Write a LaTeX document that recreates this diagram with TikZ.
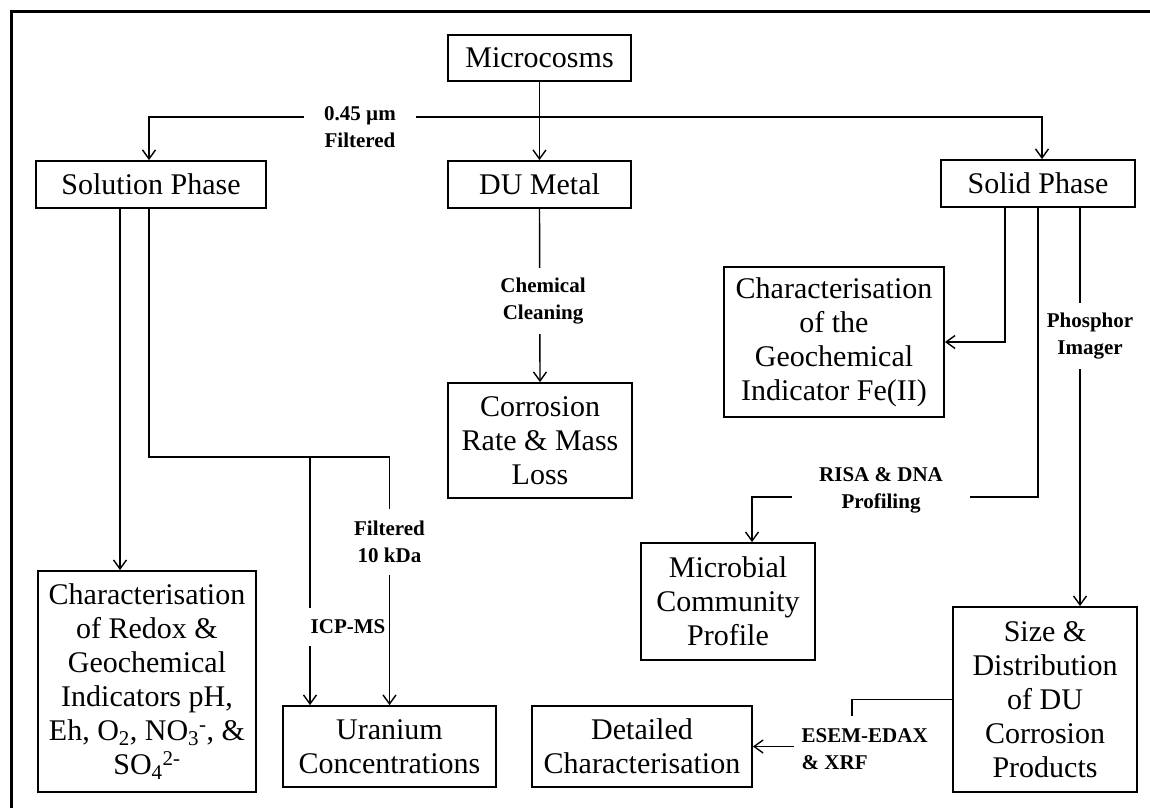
\documentclass[tikz,border=0pt]{standalone}
\usepackage{fontspec}
\setmainfont{Liberation Serif}
\usetikzlibrary{arrows.meta}
\tikzset{
  box/.style={draw,line width=1.8pt,align=center,inner sep=2pt,font=\fontsize{30}{34}\selectfont},
  lbl/.style={fill=white,align=center,inner xsep=4pt,inner ysep=10pt,font=\fontsize{21}{27}\selectfont\bfseries},
}
\begin{document}
\begin{tikzpicture}[x=1pt,y=-1pt,line width=1.4pt,>={Straight Barb[length=9pt,width=13pt]}]
    \useasboundingbox (0,0) rectangle (1150,808);
    \draw[line width=3pt] (11,808)--(11,12)--(1150,12);
    \node[box,minimum width=183pt,minimum height=46pt] (micro) at (539.5,58) {Microcosms};
    \node[box,minimum width=230pt,minimum height=47pt] (solution) at (151,184.5) {Solution Phase};
    \node[box,minimum width=183pt,minimum height=47pt] (dumetal) at (539.5,184.5) {DU Metal};
    \node[box,minimum width=194pt,minimum height=47pt] (solid) at (1038,183.5) {Solid Phase};
    \node[box,minimum width=218pt,minimum height=221pt] (redox) at (147,681.5) {Characterisation\\of Redox \&\\Geochemical\\Indicators pH,\\Eh, O\textsubscript{2}, NO\textsubscript{3}\textsuperscript{-}, \&\\SO\textsubscript{4}\textsuperscript{2-}};
    \node[box,minimum width=213pt,minimum height=81pt] (uranium) at (389.5,746.5) {Uranium\\Concentrations};
    \node[box,minimum width=184pt,minimum height=115pt] (corrosion) at (540,440.5) {Corrosion\\Rate \& Mass\\Loss};
    \node[box,minimum width=220pt,minimum height=150pt] (feii) at (834,342) {Characterisation\\of the\\Geochemical\\Indicator Fe(II)};
    \node[box,minimum width=174pt,minimum height=117pt] (microbial) at (728,601.5) {Microbial\\Community\\Profile};
    \node[box,minimum width=184pt,minimum height=185pt] (sizedist) at (1045,699.5) {Size \&\\Distribution\\of DU\\Corrosion\\Products};
    \node[box,minimum width=220pt,minimum height=81pt] (detailed) at (642,746.5) {Detailed\\Characterisation};
    \coordinate (split) at (539.5,117);
    \coordinate (icp) at (310,457);
    \coordinate (risa1) at (752,497);
    \coordinate (esemc) at (852,746.5);
    \draw[->] (micro.south) -- (dumetal.north);
    \draw[->] (split) -| ([xshift=-2pt]solution.north);
    \draw[->] (split) -| ([xshift=4pt]solid.north);
    \draw[->] ([xshift=-31pt]solution.south) -- ([xshift=-27pt]redox.north);
    \draw[->] ([xshift=-2pt]solution.south) |- (0,457 -| uranium.north) -- (uranium.north);
    \draw[->] (icp) -- (icp |- uranium.north);
    \draw[->] (dumetal.south) -- (corrosion.north);
    \draw[->] ([xshift=-33pt]solid.south) |- (feii.east);
    \draw[->] (solid.south) |- (risa1) -- (risa1 |- microbial.north);
    \draw[->] ([xshift=42pt]solid.south) -- ([xshift=35pt]sizedist.north);
    \draw[->] (sizedist.west) -| (esemc) -- (detailed.east);
    \node[lbl,inner xsep=20pt,inner ysep=4pt] (filt) at (360,127) {0.45 µm\\Filtered};
    \node[lbl,inner ysep=12pt] (tenk) at (389.5,542) {Filtered\\10 kDa};
    \node[lbl,anchor=west,inner ysep=12pt] (icpms) at (306,627) {ICP-MS};
    \node[lbl] (clean) at (543,301) {Chemical\\Cleaning};
    \node[lbl] (phos) at (1090,336) {Phosphor\\Imager};
    \node[lbl,inner xsep=27pt,inner ysep=4pt] (risa) at (881,490) {RISA \& DNA\\Profiling};
    \node[lbl,align=left,anchor=west,inner xsep=8pt,inner ysep=12pt] (esem) at (793,749) {ESEM-EDAX\\\& XRF};
\end{tikzpicture}
\end{document}
